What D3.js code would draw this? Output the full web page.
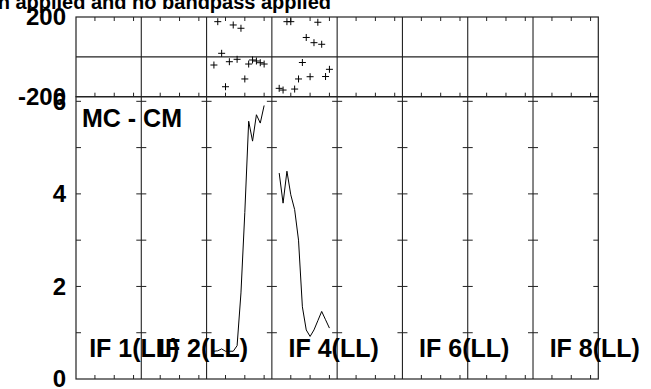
<!DOCTYPE html>
<html>
<head>
<meta charset="utf-8">
<script src="https://cdn.jsdelivr.net/npm/d3@7"></script>
<style>
  html, body { margin: 0; padding: 0; background: #fff; overflow: hidden; }
  text { font-family: "Liberation Sans", Arial, Helvetica, sans-serif; font-weight: bold; fill: #000; }
</style>
</head>
<body>
<svg id="chart" width="651" height="389"></svg>
<script>
// ---- data ----
const titleText = "n applied and no bandpass applied";
const panelLabel = "MC - CM";
const ifCount = 8;
const ifLabelIndex = [0, 1, 3, 5, 7];
const ifLabels = ["IF 1(LL)", "IF 2(LL)", "IF 4(LL)", "IF 6(LL)", "IF 8(LL)"];
const channels = [2, 3, 4, 5, 6, 7, 8, 9, 10, 11, 12, 13, 14, 15];
const channelTicks = [5, 10, 15];
// IF 3 (index 2) and IF 4 (index 3)
const ampIF3 = [0.6, 0.61, 0.65, 0.6, 0.6, 0.6, 0.72, 1.86, 3.6, 5.57, 5.14, 5.71, 5.53, 5.91];
const phaseIF3 = [-41, 176.6, 17.8, -150, -24.4, 160, -12.3, 143.5, -111, -36, -15.8, -20.9, -29.4, -36];
const ampIF4 = [4.45, 3.80, 4.49, 3.98, 3.66, 3.0, 1.56, 1.06, 0.92, 1.06, 1.26, 1.46, 1.28, 1.10];
const phaseIF4 = [-158, -166.6, 176.6, 176.6, -161.6, -111, -28.4, 97.2, -99.7, 71.1, 173.6, 63.1, -98.7, -62.6];
const phaseTicks = [-200, 200];
const phaseGrid = [0];
const ampTicks = [0, 1, 2, 3, 4, 5, 6];
const ampLabelTicks = [0, 2, 4, 6];

const series = [
  { ifIndex: 2, amp: ampIF3, phase: phaseIF3 },
  { ifIndex: 3, amp: ampIF4, phase: phaseIF4 }
];

// ---- layout ----
const X0 = 76, X1 = 598.3;
const PT = 17, PB = 96.7;   // phase panel
const AT = 96.7, AB = 379;  // amplitude panel

const svg = d3.select("#chart");
const ifScale = d3.scaleLinear().domain([0, ifCount]).range([X0, X1]);
const ifW = ifScale(1) - ifScale(0);
const chScale = d3.scaleLinear().domain([0.1, 17.0]).range([0, ifW]);
const xPos = (i, c) => ifScale(i) + chScale(c);
const yPhase = d3.scaleLinear().domain([-200, 200]).range([PB, PT]);
const yAmp = d3.scaleLinear().domain([0, 6.1]).range([AB, AT]);

const frameColor = "#222";
const g = svg.append("g");

// title
svg.append("text").attr("x", 331).attr("y", 9).attr("text-anchor", "end")
  .style("font-size", "20px").text(titleText);

// ---- phase panel frame ----
g.append("rect").attr("x", X0).attr("y", PT).attr("width", X1 - X0).attr("height", PB - PT)
  .attr("fill", "none").attr("stroke", frameColor).attr("stroke-width", 1.2);
g.selectAll(".pgrid").data(phaseGrid).join("line")
  .attr("x1", X0).attr("x2", X1).attr("y1", d => yPhase(d)).attr("y2", d => yPhase(d))
  .attr("stroke", frameColor).attr("stroke-width", 1.1);
const divs = d3.range(1, ifCount);
g.selectAll(".pdiv").data(divs).join("line")
  .attr("x1", d => ifScale(d)).attr("x2", d => ifScale(d)).attr("y1", PT).attr("y2", PB)
  .attr("stroke", frameColor).attr("stroke-width", 1.1);

// channel ticks
const chTickData = [];
for (let i = 0; i < ifCount; i++) channelTicks.forEach(c => chTickData.push(xPos(i, c)));
g.selectAll(".ptt").data(chTickData).join("line")
  .attr("x1", d => d).attr("x2", d => d).attr("y1", PT).attr("y2", PT + 4)
  .attr("stroke", frameColor).attr("stroke-width", 1);
g.selectAll(".ptb").data(chTickData).join("line")
  .attr("x1", d => d).attr("x2", d => d).attr("y1", PB).attr("y2", PB - 4)
  .attr("stroke", frameColor).attr("stroke-width", 1);
g.selectAll(".atb").data(chTickData).join("line")
  .attr("x1", d => d).attr("x2", d => d).attr("y1", AB).attr("y2", AB - 4)
  .attr("stroke", frameColor).attr("stroke-width", 1);

// ---- amplitude panel frame ----
g.append("rect").attr("x", X0).attr("y", AT).attr("width", X1 - X0).attr("height", AB - AT)
  .attr("fill", "none").attr("stroke", frameColor).attr("stroke-width", 1.2);
g.selectAll(".adiv").data(divs).join("line")
  .attr("x1", d => ifScale(d)).attr("x2", d => ifScale(d)).attr("y1", AT).attr("y2", AB)
  .attr("stroke", frameColor).attr("stroke-width", 1.1);
const divTicks = [];
d3.range(0, ifCount + 1).forEach(i => ampTicks.filter(v => v > 0).forEach(v => {
  const x = ifScale(i);
  divTicks.push({ x1: i === 0 ? x : x - 5, x2: i === ifCount ? x : x + 5, y: yAmp(v) });
}));
g.selectAll(".atick").data(divTicks).join("line")
  .attr("x1", d => d.x1).attr("x2", d => d.x2).attr("y1", d => d.y).attr("y2", d => d.y)
  .attr("stroke", frameColor).attr("stroke-width", 1);

// ---- axes labels ----
const hyphenFmt = d => String(d);
const leftPhase = d3.axisLeft(yPhase).tickValues(phaseTicks).tickFormat(hyphenFmt).tickSize(0).tickPadding(10);
const lp = svg.append("g").attr("transform", `translate(${X0},0)`).call(leftPhase);
lp.select(".domain").remove();
lp.selectAll("text").style("font-size", "24px").style("font-family", null);

const leftAmp = d3.axisLeft(yAmp).tickValues(ampLabelTicks).tickFormat(hyphenFmt).tickSize(0).tickPadding(10);
const la = svg.append("g").attr("transform", `translate(${X0},0)`).call(leftAmp);
la.select(".domain").remove();
la.selectAll("text").style("font-size", "24px").style("font-family", null);

// ---- data marks ----
const line = d3.line().x(d => d.x).y(d => d.y);
series.forEach(s => {
  const pts = channels.map((c, k) => ({ x: xPos(s.ifIndex, c), y: yAmp(s.amp[k]) }));
  svg.append("path").attr("d", line(pts)).attr("fill", "none")
    .attr("stroke", "#000").attr("stroke-width", 1);
  const ph = channels.map((c, k) => ({ x: xPos(s.ifIndex, c), y: yPhase(s.phase[k]) }));
  svg.selectAll(null).data(ph).join("path")
    .attr("d", d => `M${d.x - 3.5},${d.y}H${d.x + 3.5}M${d.x},${d.y - 3.5}V${d.y + 3.5}`)
    .attr("stroke", "#000").attr("stroke-width", 1).attr("fill", "none");
});

// ---- labels ----
svg.append("text").attr("x", 82).attr("y", 127).style("font-size", "25px").text(panelLabel);
svg.selectAll(".iflab").data(ifLabels).join("text")
  .attr("x", (d, k) => ifScale(ifLabelIndex[k] + 1) - (k === 0 ? 7 : 3.5))
  .attr("y", 357).attr("text-anchor", "middle").style("font-size", "25px")
  .text(d => d);
</script>
</body>
</html>
